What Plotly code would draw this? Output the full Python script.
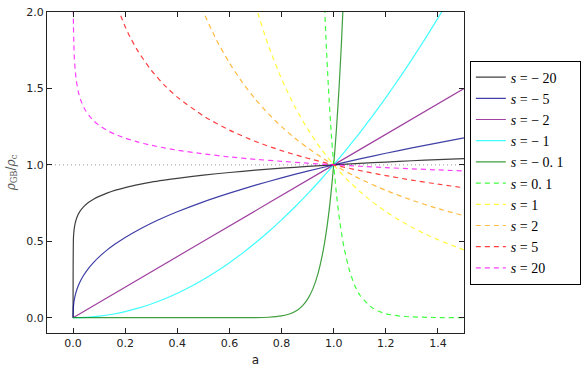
import plotly.graph_objects as go

# ---- data ----
labels = ["− 20", "− 5", "− 2", "− 1", "− 0. 1", "0. 1", "1", "2", "5", "20"]
colors = ["black", "#00008b", "purple", "cyan", "green", "lime", "yellow", "orange", "red", "magenta"]
dashed = [False, False, False, False, False, True, True, True, True, True]

a_m20 = [0, 0.0015, 0.004, 0.008, 0.015, 0.025, 0.04, 0.06, 0.08, 0.1, 0.13, 0.16, 0.2, 0.25, 0.3, 0.35, 0.4, 0.5, 0.6, 0.7, 0.8, 0.9, 1.0, 1.1, 1.2, 1.3, 1.4, 1.5]
y_m20 = [0, 0.522, 0.576, 0.617, 0.657, 0.692, 0.725, 0.755, 0.777, 0.794, 0.815, 0.833, 0.851, 0.871, 0.887, 0.900, 0.912, 0.933, 0.950, 0.965, 0.978, 0.990, 1.0, 1.010, 1.018, 1.027, 1.034, 1.041]

a_m5 = a_m20
y_m5 = [0, 0.074, 0.110, 0.145, 0.186, 0.229, 0.276, 0.325, 0.364, 0.398, 0.442, 0.480, 0.525, 0.574, 0.618, 0.657, 0.693, 0.758, 0.815, 0.867, 0.915, 0.959, 1.0, 1.039, 1.076, 1.111, 1.144, 1.176]

a_m2 = [0, 0.5, 1.0, 1.5]
y_m2 = [0, 0.5, 1.0, 1.5]

a_m1 = [0, 0.05, 0.1, 0.15, 0.2, 0.25, 0.3, 0.35, 0.4, 0.45, 0.5, 0.55, 0.6, 0.65, 0.7, 0.75, 0.8, 0.85, 0.9, 0.95, 1.0, 1.05, 1.1, 1.15, 1.2, 1.25, 1.3, 1.35, 1.4, 1.45, 1.5]
y_m1 = [0, 0.0025, 0.01, 0.0225, 0.04, 0.0625, 0.09, 0.1225, 0.16, 0.2025, 0.25, 0.3025, 0.36, 0.4225, 0.49, 0.5625, 0.64, 0.7225, 0.81, 0.9025, 1.0, 1.1025, 1.21, 1.3225, 1.44, 1.5625, 1.69, 1.8225, 1.96, 2.1025, 2.25]

a_m01 = [0, 0.5, 0.6, 0.65, 0.7, 0.75, 0.8, 0.83, 0.86, 0.88, 0.9, 0.92, 0.94, 0.96, 0.98, 1.0, 1.01, 1.02, 1.03, 1.04]
y_m01 = [0, 0, 0, 0.0002, 0.0008, 0.0032, 0.0115, 0.0241, 0.049, 0.0776, 0.1216, 0.1887, 0.2901, 0.442, 0.6676, 1.0, 1.2202, 1.4859, 1.806, 2.191]

a_p01 = [0.96, 0.97, 0.98, 0.99, 1.0, 1.01, 1.02, 1.03, 1.04, 1.06, 1.08, 1.1, 1.15, 1.2, 1.25, 1.3, 1.4, 1.5]
y_p01 = [2.262, 1.839, 1.498, 1.223, 1.0, 0.820, 0.673, 0.554, 0.456, 0.312, 0.2145, 0.1486, 0.0611, 0.0261, 0.0115, 0.0053, 0.0012, 0.0003]

a_p1 = [0.68, 0.7, 0.75, 0.8, 0.85, 0.9, 0.95, 1.0, 1.05, 1.1, 1.15, 1.2, 1.25, 1.3, 1.35, 1.4, 1.45, 1.5]
y_p1 = [2.163, 2.041, 1.778, 1.5625, 1.384, 1.235, 1.108, 1.0, 0.907, 0.826, 0.756, 0.694, 0.64, 0.592, 0.549, 0.510, 0.476, 0.444]

a_p2 = [0.48, 0.5, 0.55, 0.6, 0.65, 0.7, 0.75, 0.8, 0.85, 0.9, 0.95, 1.0, 1.1, 1.2, 1.3, 1.4, 1.5]
y_p2 = [2.083, 2.0, 1.818, 1.667, 1.538, 1.429, 1.333, 1.25, 1.176, 1.111, 1.053, 1.0, 0.909, 0.833, 0.769, 0.714, 0.667]

a_p5 = [0.17, 0.2, 0.22, 0.25, 0.3, 0.35, 0.4, 0.5, 0.6, 0.7, 0.8, 0.9, 1.0, 1.1, 1.2, 1.3, 1.4, 1.5]
y_p5 = [2.031, 1.904, 1.832, 1.741, 1.619, 1.522, 1.443, 1.320, 1.227, 1.153, 1.093, 1.043, 1.0, 0.963, 0.930, 0.900, 0.874, 0.850]

a_p20 = [0.0009, 0.0015, 0.003, 0.005, 0.008, 0.012, 0.02, 0.03, 0.045, 0.06, 0.08, 0.1, 0.13, 0.16, 0.2, 0.25, 0.3, 0.35, 0.4, 0.5, 0.6, 0.7, 0.8, 0.9, 1.0, 1.1, 1.2, 1.3, 1.4, 1.5]
y_p20 = [2.016, 1.916, 1.788, 1.698, 1.621, 1.556, 1.479, 1.420, 1.364, 1.325, 1.287, 1.259, 1.226, 1.201, 1.175, 1.149, 1.128, 1.111, 1.096, 1.072, 1.052, 1.036, 1.023, 1.011, 1.0, 0.991, 0.982, 0.974, 0.967, 0.960]

xs = [a_m20, a_m5, a_m2, a_m1, a_m01, a_p01, a_p1, a_p2, a_p5, a_p20]
ys = [y_m20, y_m5, y_m2, y_m1, y_m01, y_p01, y_p1, y_p2, y_p5, y_p20]

x_ticks = [0.0, 0.2, 0.4, 0.6, 0.8, 1.0, 1.2, 1.4]
y_ticks = [0.0, 0.5, 1.0, 1.5, 2.0]

fig = go.Figure()

for x, y, lab, c, d in zip(xs, ys, labels, colors, dashed):
    fig.add_trace(go.Scatter(
        x=x, y=y, mode="lines",
        name="<i>s</i> = " + lab + "\u00a0\u00a0\u00a0",
        line=dict(color=c, width=1.2, dash="5px,4px" if d else "solid", shape="spline", smoothing=0.6),
        opacity=0.75,
    ))

fig.add_hline(y=1.0, line=dict(color="#999999", width=1, dash="1px,3px"), layer="below")

axis_common = dict(
    showline=True, mirror="ticks", linecolor="#222222", linewidth=1, automargin=False,
    ticks="inside", ticklen=5, tickcolor="#222222", showgrid=False, zeroline=False,
    tickfont=dict(family="DejaVu Sans", size=11, color="#222222"),
)

fig.update_xaxes(range=[-0.1, 1.5], tickvals=x_ticks, tickformat=".1f",
                 title=dict(text="a", font=dict(family="DejaVu Sans", size=12, color="#222222"), standoff=6),
                 **axis_common)
fig.update_yaxes(range=[-0.1, 2.0], tickvals=y_ticks, tickformat=".1f",
                 title=dict(text="<i>ρ</i><sub>GB</sub>/<i>ρ</i><sub>c</sub>",
                            font=dict(family="DejaVu Serif", size=12, color="#555555"), standoff=8),
                 **axis_common)

fig.update_layout(
    width=581, height=369,
    margin=dict(l=47, r=117, t=12, b=36, autoexpand=False),
    paper_bgcolor="white", plot_bgcolor="white",
    legend=dict(
        x=1.014, y=0.5, xanchor="left", yanchor="middle",
        bordercolor="black", borderwidth=1, bgcolor="white",
        font=dict(family="Liberation Serif", size=14, color="black"),
        tracegroupgap=0,
    ),
    showlegend=True,
)

fig.write_html("out.html",
               config={"displayModeBar": False},
               post_script="document.body.style.margin='0';document.body.style.overflow='hidden';")
